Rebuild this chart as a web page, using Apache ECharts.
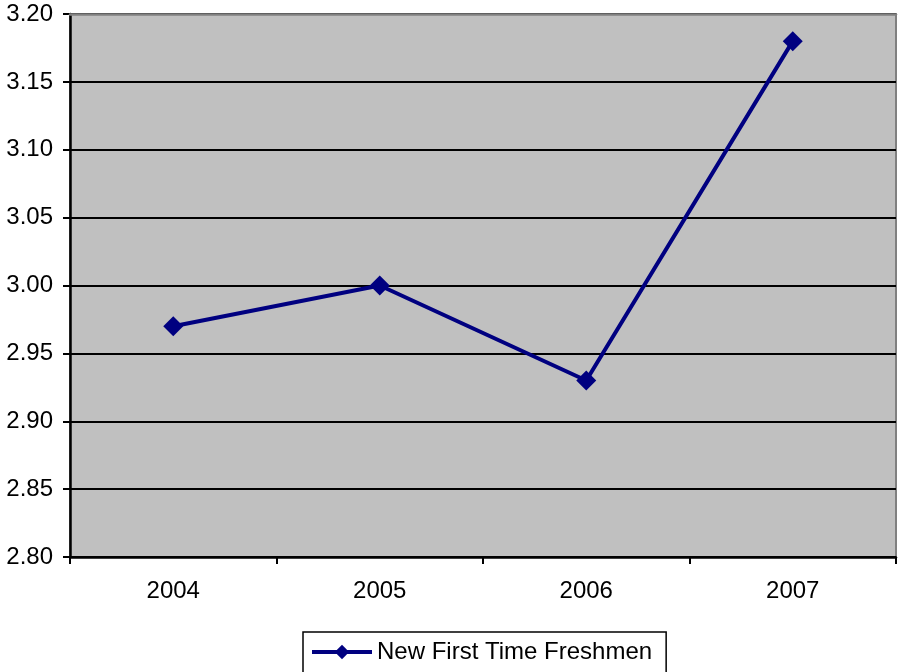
<!DOCTYPE html>
<html>
<head>
<meta charset="utf-8">
<script src="https://cdn.jsdelivr.net/npm/echarts@6/dist/echarts.min.js"></script>
<style>html,body{margin:0;padding:0;background:#fff}#c{width:898px;height:672px}</style>
</head>
<body>
<div id="c"></div>
<script>
var categories = ['2004', '2005', '2006', '2007'];
var seriesName = 'New First Time Freshmen';
var values = [2.97, 3.00, 2.93, 3.18];
var yMin = 2.80, yMax = 3.20, yStep = 0.05;

var chart = echarts.init(document.getElementById('c'));
var font = 'Liberation Sans, Arial, sans-serif';
chart.setOption({
  animation: false,
  backgroundColor: '#ffffff',
  grid: { left: 70, right: 2, top: 14, bottom: 115, show: true, backgroundColor: '#C0C0C0', borderColor: '#808080', borderWidth: 2 },
  legend: {
    data: [seriesName],
    left: 303, top: 632,
    borderColor: '#000', borderWidth: 1.5,
    padding: [8, 14, 12, 7],
    itemWidth: 60, itemHeight: 18, itemGap: 5,
    lineStyle: { width: 4 },
    textStyle: { fontFamily: font, fontSize: 24, color: '#000' }
  },
  xAxis: [{
    type: 'category', data: categories, boundaryGap: true,
    axisLine: { lineStyle: { color: '#000', width: 2.5 } },
    axisTick: { show: true, length: 7, lineStyle: { color: '#000', width: 2 } },
    axisLabel: { margin: 22, fontFamily: font, fontSize: 24, color: '#000' },
    splitLine: { show: false }
  }, {
    type: 'category', data: categories, position: 'top', z: 10,
    axisLine: { show: true, lineStyle: { color: '#808080', width: 2.5 } },
    axisTick: { show: false }, axisLabel: { show: false }, splitLine: { show: false }
  }],
  yAxis: {
    type: 'value', min: yMin, max: yMax, interval: yStep,
    axisLine: { show: true, lineStyle: { color: '#000', width: 2.5 } },
    axisTick: { show: true, length: 7, lineStyle: { color: '#000', width: 2 } },
    axisLabel: { margin: 17, fontFamily: font, fontSize: 24, color: '#000', formatter: function (v) { return v.toFixed(2); } },
    splitLine: { show: true, lineStyle: { color: '#000', width: 2 } }
  },
  series: [{
    name: seriesName, type: 'line', data: values,
    symbol: 'diamond', symbolSize: 20,
    lineStyle: { color: '#000080', width: 4 },
    itemStyle: { color: '#000080' }
  }]
});
</script>
</body>
</html>
